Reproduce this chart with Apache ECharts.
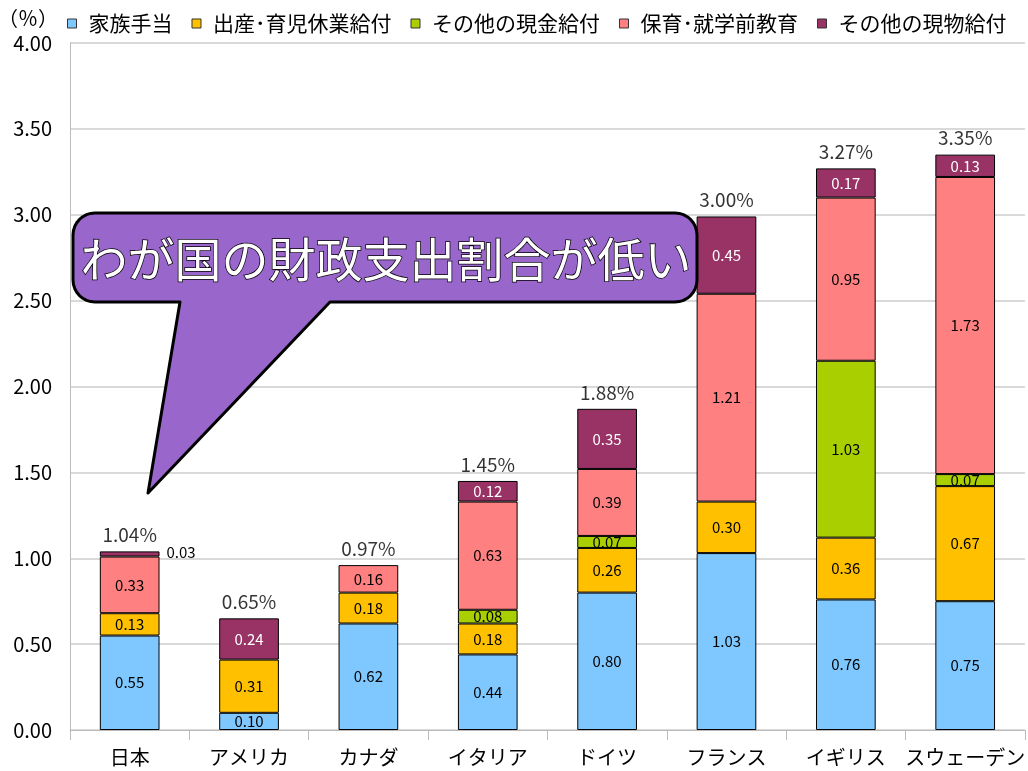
<!DOCTYPE html>
<html>
<head>
<meta charset="utf-8">
<script src="https://cdn.jsdelivr.net/npm/echarts@6/dist/echarts.min.js"></script>
<style>
html,body{margin:0;padding:0;background:#fff;}
#chart{width:1028px;height:771px;}
</style>
</head>
<body>
<div id="chart"></div>
<script>
//国名
var countries=['日本','アメリカ','カナダ','イタリア','ドイツ','フランス','イギリス','スウェーデン'];
//系列名
var seriesNames=['家族手当','出産･育児休業給付','その他の現金給付','保育･就学前教育','その他の現物給付'];
//各系列の値（'-'は該当なし）
var kazokuTeate=[0.55,0.10,0.62,0.44,0.80,1.03,0.76,0.75];
var shussanIkuji=[0.13,0.31,0.18,0.18,0.26,0.30,0.36,0.67];
var sonotaGenkin=['-','-','-',0.08,0.07,'-',1.03,0.07];
var hoikuKyoiku=[0.33,'-',0.16,0.63,0.39,1.21,0.95,1.73];
var sonotaGenbutsu=[0.03,0.24,'-',0.12,0.35,0.45,0.17,0.13];
//合計ラベル
var totals=['1.04%','0.65%','0.97%','1.45%','1.88%','3.00%','3.27%','3.35%'];
//目盛
var yTicks=[0,0.5,1,1.5,2,2.5,3,3.5,4];

var seriesValues=[kazokuTeate,shussanIkuji,sonotaGenkin,hoikuKyoiku,sonotaGenbutsu];
var colors=['#7FC8FF','#FFC000','#AACF00','#FF8080','#993366'];
var labelColors=['#000','#000','#000','#000','#fff'];
var fontJP='"Noto Sans CJK JP","Noto Sans",sans-serif';

//棒グラフ系列
function buildSeries() {
    var arr=[];
    for(var i=0;i<seriesValues.length;i++){
        var data=seriesValues[i].map(function (v,idx) {
            //日本のその他の現物給付は棒の外側にラベル
            if(i==4&&idx==0){
                return {value:v,label:{position:'right',color:'#000',distance:7,offset:[0,-2]}};
            }
            return v;
        });
        arr.push({
            name:seriesNames[i],
            type:'bar',
            stack:'total',
            barWidth:'50%',
            itemStyle:{color:colors[i],borderColor:'#000',borderWidth:1},
            label:{
                show:true,
                position:'inside',
                color:labelColors[i],
                fontSize:15,
                fontFamily:fontJP,
                formatter:function (p) {
                    return (+p.value).toFixed(2);
                }
            },
            data:data
        });
    }
    //合計ラベル用
    var sums=countries.map(function (c,idx) {
        var s=0;
        seriesValues.forEach(function (arr) {
            if(arr[idx]!=='-'){ s+=arr[idx]; }
        });
        return +s.toFixed(2);
    });
    arr.push({
        name:'合計',
        type:'scatter',
        symbolSize:0,
        silent:true,
        label:{
            show:true,
            position:'top',
            distance:7,
            color:'#000',
            fontSize:19,
            fontFamily:fontJP,
            formatter:function (p) {
                return totals[p.dataIndex];
            }
        },
        data:sums
    });
    return arr;
}

//吹き出しの形（角丸＋しっぽ）
function calloutPoints() {
    var x0=73,y0=213,x1=697,y1=302,r=22,pts=[];
    function corner(cx,cy,a0) {
        for(var k=0;k<=8;k++){
            var a=(a0+k*90/8)*Math.PI/180;
            pts.push([cx+r*Math.cos(a),cy+r*Math.sin(a)]);
        }
    }
    corner(x0+r,y0+r,180);
    corner(x1-r,y0+r,270);
    corner(x1-r,y1-r,0);
    pts.push([330,y1],[148,493],[180,y1]);
    corner(x0+r,y1-r,90);
    return pts;
}

var chart=echarts.init(document.getElementById('chart'));
var option={
    backgroundColor:'#fff',
    animation:false,
    legend:{
        left:62,
        top:8,
        itemWidth:9,
        itemHeight:9,
        itemGap:19,
        icon:'rect',
        data:seriesNames.map(function (n,i) {
            return {name:n,itemStyle:{borderColor:'#333',borderWidth:1}};
        }),
        textStyle:{fontSize:21,fontFamily:fontJP,color:'#000',padding:[0,0,0,7]}
    },
    grid:{
        left:70,
        right:0,
        top:43,
        bottom:41,
        containLabel:false
    },
    xAxis:{
        type:'category',
        data:countries,
        axisLine:{lineStyle:{color:'#BBBBBB',width:1}},
        axisTick:{show:true,interval:0,length:10,lineStyle:{color:'#BBBBBB'}},
        axisLabel:{interval:0,color:'#000',fontSize:20,fontFamily:fontJP,margin:17}
    },
    yAxis:{
        type:'value',
        min:yTicks[0],
        max:yTicks[yTicks.length-1],
        interval:yTicks[1]-yTicks[0],
        axisLine:{show:true,lineStyle:{color:'#BBBBBB'}},
        axisTick:{show:false},
        axisLabel:{
            color:'#000',
            fontSize:20,
            fontFamily:fontJP,
            margin:18,
            formatter:function (v) {
                return v.toFixed(2);
            }
        },
        splitLine:{lineStyle:{color:'#CCCCCC',width:1.5}}
    },
    graphic:[
        {
            type:'text',
            left:-2,
            top:8,
            style:{text:'（％）',fontSize:20,fontFamily:fontJP,fill:'#000'}
        },
        {
            type:'polygon',
            z:100,
            shape:{points:calloutPoints()},
            style:{fill:'#9966CC',stroke:'#000',lineWidth:3,lineJoin:'round'}
        },
        {
            type:'text',
            z:101,
            x:386,
            y:259,
            style:{
                text:'わが国の財政支出割合が低い',
                fontSize:47,
                fontFamily:fontJP,
                fill:'#fff',
                stroke:'#000',
                lineWidth:1.5,
                align:'center',
                verticalAlign:'middle'
            }
        }
    ],
    series:buildSeries()
};
chart.setOption(option);
</script>
</body>
</html>
